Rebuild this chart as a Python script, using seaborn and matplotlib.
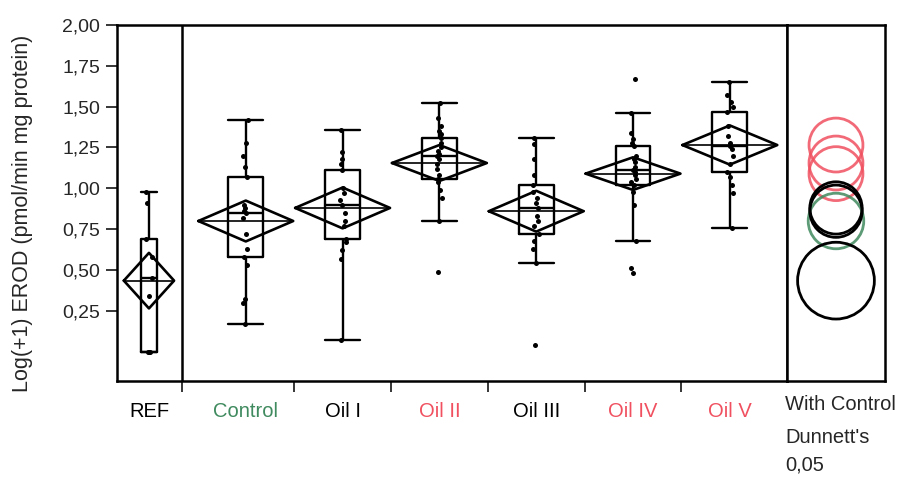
import matplotlib
matplotlib.use("Agg")
import matplotlib.pyplot as plt
from matplotlib.patches import Ellipse
import seaborn as sns
import pandas as pd
import numpy as np

np.random.seed(3)

# Groups and label colours (Dunnett's with Control)
groups = ["REF", "Control", "Oil I", "Oil II", "Oil III", "Oil IV", "Oil V"]
group_colors = ["black", "#3f8a5e", "black", "#f0505f", "black", "#f0505f", "#f0505f"]

# Individual observations, Log(+1) EROD
ref_vals = [0.0, 0.0, 0.0, 0.34, 0.45, 0.58, 0.69, 0.91, 0.98]
control_vals = [0.17, 0.30, 0.32, 0.53, 0.58, 0.63, 0.72, 0.82, 0.85, 0.86, 0.88, 0.90,
                1.07, 1.13, 1.20, 1.28, 1.42]
oil1_vals = [0.07, 0.57, 0.62, 0.67, 0.69, 0.77, 0.80, 0.85, 0.90, 0.93, 0.97, 1.00,
             1.11, 1.15, 1.18, 1.22, 1.36]
oil2_vals = [0.49, 0.80, 0.94, 0.99, 1.04, 1.06, 1.08, 1.12, 1.15, 1.18, 1.20, 1.21,
             1.23, 1.25, 1.28, 1.31, 1.33, 1.35, 1.38, 1.43, 1.52]
oil3_vals = [0.04, 0.54, 0.63, 0.68, 0.72, 0.77, 0.80, 0.83, 0.88, 0.91, 0.94, 0.98,
             1.02, 1.08, 1.18, 1.27, 1.31]
oil4_vals = [0.48, 0.51, 0.68, 0.90, 0.98, 1.02, 1.04, 1.06, 1.08, 1.10, 1.11, 1.13,
             1.16, 1.18, 1.20, 1.26, 1.28, 1.30, 1.34, 1.46, 1.67]
oil5_vals = [0.76, 0.97, 1.02, 1.07, 1.10, 1.15, 1.20, 1.24, 1.26, 1.28, 1.32, 1.38,
             1.47, 1.50, 1.53, 1.57, 1.65]

# Means diamonds (mean, 95% half-height) and comparison circle radii
means = [0.435, 0.80, 0.88, 1.155, 0.86, 1.09, 1.265]
ci_half = [0.17, 0.125, 0.125, 0.11, 0.125, 0.10, 0.12]
circle_r = [0.235, 0.17, 0.16, 0.165, 0.16, 0.165, 0.165]

yticks = [0.25, 0.50, 0.75, 1.00, 1.25, 1.50, 1.75, 2.00]
ytick_labels = ["0,25", "0,50", "0,75", "1,00", "1,25", "1,50", "1,75", "2,00"]

all_vals = [ref_vals, control_vals, oil1_vals, oil2_vals, oil3_vals, oil4_vals, oil5_vals]
df = pd.DataFrame({
    "group": np.repeat(groups, [len(v) for v in all_vals]),
    "value": np.concatenate(all_vals),
})

sns.set_style("white")
plt.rcParams["font.family"] = ["Liberation Sans", "DejaVu Sans"]

fig = plt.figure(figsize=(9.17, 4.8), dpi=100)
ax = fig.add_axes([0.1276, 0.206, 0.7306, 0.742])
ax2 = fig.add_axes([0.8582, 0.206, 0.1069, 0.742], sharey=ax)

box_kws = dict(x="group", y="value", order=groups, fill=False, color="black",
               linewidth=1.7, showfliers=False, whis=1.5, ax=ax)
# REF box is narrower (fewer observations)
sns.boxplot(data=df[df["group"] == "REF"], width=0.16, capwidths=0.16, **box_kws)
sns.boxplot(data=df[df["group"] != "REF"], width=0.36, capwidths=0.36, **box_kws)

sns.stripplot(data=df, x="group", y="value", order=groups, color="black",
              size=3.6, jitter=0.035, ax=ax, zorder=4)

# means diamonds
for i, (m, h, vals) in enumerate(zip(means, ci_half, all_vals)):
    hw = 0.49 * min(1.0, len(vals) / 17)
    ax.plot([i - hw, i, i + hw, i, i - hw], [m, m + h, m, m - h, m],
            color="black", lw=1.9, zorder=5)
    ax.plot([i - hw, i + hw], [m, m], color="black", lw=1.2, zorder=5)

divider = 0.34
ax.axvline(divider, color="black", lw=1.8)
ax.set_xlim(-0.33, 6.59)
ax.set_ylim(-0.18, 2.0)

ax.set_yticks(yticks)
ax.set_yticklabels(ytick_labels, fontsize=14)
ax.tick_params(axis="y", direction="out", length=8, width=1.3, pad=4, left=True)

ax.set_xticks([divider, 1.5, 2.5, 3.5, 4.5, 5.5])
ax.set_xticklabels([])
ax.tick_params(axis="x", which="major", direction="out", length=8, width=1.3, bottom=True)
ax.set_xticks(range(len(groups)), minor=True)
ax.set_xticklabels(groups, minor=True, fontsize=14.5)
ax.tick_params(axis="x", which="minor", length=0, pad=15)
for lbl, c in zip(ax.get_xticklabels(minor=True), group_colors):
    lbl.set_color(c)

ax.set_xlabel("")
ax.set_ylabel("Log(+1) EROD (pmol/min mg protein)", fontsize=15.5)
ax.yaxis.set_label_coords(-0.125, 0.47)

for a in (ax, ax2):
    for sp in a.spines.values():
        sp.set_visible(True)
        sp.set_color("black")
        sp.set_linewidth(1.8)

# comparison circles
ax2.set_xlim(0, 1)
px_per_y = 356 / 2.18
px_x = 98
order_draw = [3, 5, 6, 1, 2, 4, 0]
for i in order_draw:
    r = circle_r[i]
    ell = Ellipse((0.5, means[i]), width=2 * r * px_per_y / px_x, height=2 * r,
                  fill=False, edgecolor=group_colors[i], lw=2.0,
                  alpha=0.85 if group_colors[i] != "black" else 1.0)
    ax2.add_patch(ell)
ax2.tick_params(left=False, bottom=False, labelleft=False, labelbottom=False)

for txt, yy in [("With Control", -0.067), ("Dunnett's", -0.157), ("0,05", -0.236)]:
    ax2.text(-0.02, yy, txt, transform=ax2.transAxes, ha="left", va="center",
             fontsize=14.5, clip_on=False)

fig.savefig("out.png", dpi=100, facecolor="white")
